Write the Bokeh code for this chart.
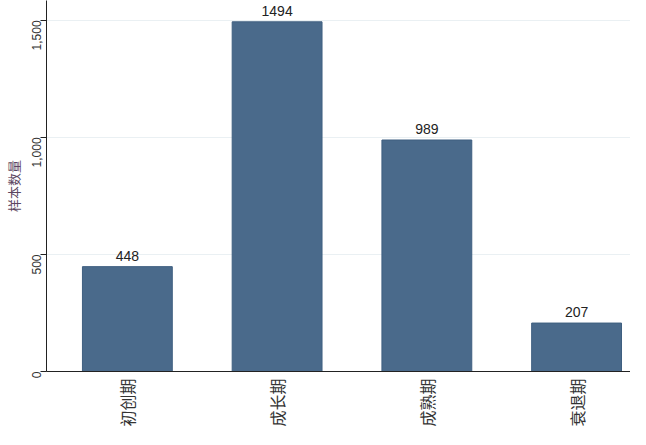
import math
from bokeh.plotting import figure
from bokeh.models import ColumnDataSource, FixedTicker, NumeralTickFormatter, Range1d
from bokeh.core.properties import value
from bokeh.embed import file_html
from bokeh.resources import INLINE

categories = ["初创期", "成长期", "成熟期", "衰退期"]
counts = [448, 1494, 989, 207]
y_ticks = [0, 500, 1000, 1500]
y_title = "样本数量"

xs = list(range(1, len(categories) + 1))
src = ColumnDataSource(dict(x=xs, top=counts, label=[str(c) for c in counts]))

p = figure(width=630, height=429, output_backend="svg", toolbar_location=None,
           x_range=Range1d(0.46, 4.36), y_range=Range1d(0, 1585),
           min_border_left=44, min_border_right=0, min_border_top=0, min_border_bottom=57)
p.outline_line_color = None
p.background_fill_color = "white"

p.vbar(x="x", top="top", width=0.6, source=src, fill_color="#4a6a8b",
       line_color="#3f5f80", line_width=1)
p.text(x="x", y="top", text="label", source=src, text_align="center",
       text_baseline="bottom", y_offset=-6, text_font=value("Liberation Sans"),
       text_font_size="14px", text_color="#222222")

# y axis
p.yaxis.ticker = FixedTicker(ticks=y_ticks)
p.yaxis.formatter = NumeralTickFormatter(format="0,0")
p.yaxis.major_label_orientation = math.pi / 2
p.yaxis.major_label_text_font = "Liberation Sans"
p.yaxis.major_label_text_font_size = "12px"
p.yaxis.major_label_text_color = "#333333"
p.yaxis.major_label_standoff = 4
p.yaxis.major_tick_out = 6
p.yaxis.major_tick_in = 0
p.yaxis.minor_tick_line_color = None
p.yaxis.axis_line_color = "#222222"
p.yaxis.major_tick_line_color = "#222222"
p.yaxis.axis_label = y_title
p.yaxis.axis_label_text_font = "Noto Sans CJK SC"
p.yaxis.axis_label_text_font_size = "13px"
p.yaxis.axis_label_text_font_style = "normal"
p.yaxis.axis_label_text_color = "#5c4660"
p.yaxis.axis_label_standoff = 2

# x axis
p.xaxis.ticker = FixedTicker(ticks=xs)
p.xaxis.major_label_overrides = {x: c for x, c in zip(xs, categories)}
p.xaxis.major_label_orientation = math.pi / 2
p.xaxis.major_label_text_font = "Noto Sans CJK SC"
p.xaxis.major_label_text_font_size = "16px"
p.xaxis.major_label_text_color = "#333333"
p.xaxis.major_label_standoff = 7
p.xaxis.major_tick_out = 0
p.xaxis.major_tick_in = 0
p.xaxis.minor_tick_line_color = None
p.xaxis.axis_line_color = "#222222"

p.xgrid.grid_line_color = None
p.ygrid.ticker = FixedTicker(ticks=y_ticks[1:])
p.ygrid.grid_line_color = "#eaf0f3"
p.ygrid.grid_line_width = 1

open("out.html", "w").write(file_html(p, INLINE))
